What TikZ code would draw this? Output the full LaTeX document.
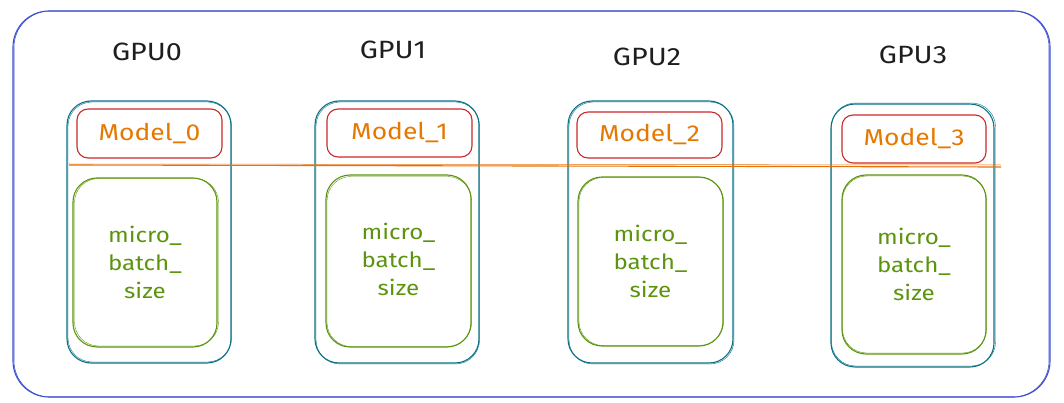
\documentclass[tikz,border=0pt]{standalone}
\usepackage{fontspec}
\setmainfont{Fira Sans}
\usepackage{graphicx}
\definecolor{cblue}{HTML}{3F51D0}
\definecolor{cteal}{HTML}{0B7285}
\definecolor{cred}{HTML}{C92A2A}
\definecolor{corange}{HTML}{E67700}
\definecolor{cline}{HTML}{E8700A}
\definecolor{cgreen}{HTML}{5C940D}
\definecolor{cdark}{HTML}{1E1E1E}
\newcommand{\hw}[1]{\scalebox{1.15}[1]{#1}}
\tikzset{
  box/.style={draw, rounded corners=#1, line width=1.1pt, inner sep=0pt, fill=none},
  gpubox/.style={box=24pt, draw=cteal},
  modelbox/.style={box=11pt, draw=cred},
  batchbox/.style={box=24pt, draw=cgreen},
  gpulabel/.style={text=cdark, font=\fontsize{25}{28}\selectfont},
  modeltext/.style={text=corange, font=\fontsize{23}{26}\selectfont},
  batchtext/.style={text=cgreen, align=center, font=\fontsize{21}{28}\selectfont},
}
\begin{document}
\begin{tikzpicture}[x=1pt,y=-1pt]
\useasboundingbox (0,0) rectangle (1064,403);
% outer frame
\node[box=36pt, draw=cblue, minimum width=1037pt, minimum height=386pt] (frame) at (531.5,204) {};
\draw[cblue, line width=0.6pt, rounded corners=36pt] (14,11) rectangle (1049,397);

% GPU labels
\node[gpulabel] (l0) at (147,52) {\hw{GPU0}};
\node[gpulabel] (l1) at (393,50) {\hw{GPU1}};
\node[gpulabel] (l2) at (647,57) {\hw{GPU2}};
\node[gpulabel] (l3) at (913,55) {\hw{GPU3}};

% GPU boxes
\node[gpubox, minimum width=164pt, minimum height=262pt] (g0) at (149,232) {};
\node[gpubox, minimum width=164pt, minimum height=262pt] (g1) at (397,232) {};
\node[gpubox, minimum width=165pt, minimum height=262pt] (g2) at (650.5,232) {};
\node[gpubox, minimum width=163pt, minimum height=263pt] (g3) at (912.5,235.5) {};
\draw[cteal, line width=0.4pt, rounded corners=24pt] (68,102) rectangle (231.5,362);
\draw[cteal, line width=0.4pt, rounded corners=24pt] (316,102) rectangle (479.5,364);
\draw[cteal, line width=0.4pt, rounded corners=24pt] (569,102) rectangle (734,364);
\draw[cteal, line width=0.4pt, rounded corners=24pt] (831.5,103) rectangle (995.5,366);

% model boxes
\node[modelbox, minimum width=145pt, minimum height=49pt] (m0) at (149.5,133.5) {};
\node[modelbox, minimum width=145pt, minimum height=48pt] (m1) at (399.5,133) {};
\node[modelbox, minimum width=145pt, minimum height=46pt] (m2) at (649.5,135) {};
\node[modelbox, minimum width=144pt, minimum height=48pt] (m3) at (914,139) {};
\node[modeltext] (t0) at (m0) {\hw{Model\_0}};
\node[modeltext] (t1) at (m1) {\hw{Model\_1}};
\node[modeltext] (t2) at (m2) {\hw{Model\_2}};
\node[modeltext] (t3) at (m3) {\hw{Model\_3}};

% batch boxes
\node[batchbox, minimum width=144pt, minimum height=169pt] (b0) at (145,262.5) {};
\node[batchbox, minimum width=145pt, minimum height=172pt] (b1) at (398.5,261) {};
\node[batchbox, minimum width=145pt, minimum height=169pt] (b2) at (650.5,261.5) {};
\node[batchbox, minimum width=144pt, minimum height=179pt] (b3) at (914,264.5) {};
\draw[cgreen, line width=0.4pt, rounded corners=24pt] (74.5,178.5) rectangle (218.5,346);
\draw[cgreen, line width=0.4pt, rounded corners=24pt] (327,176.5) rectangle (471.5,346.5);
\draw[cgreen, line width=0.4pt, rounded corners=24pt] (579,177.5) rectangle (723.5,345.5);
\draw[cgreen, line width=0.4pt, rounded corners=24pt] (842.5,176) rectangle (986.5,353);
\node[batchtext] (s0) at (b0) {\hw{micro\_}\\\hw{batch\_}\\\hw{size}};
\node[batchtext] (s1) at ([yshift=2pt]b1) {\hw{micro\_}\\\hw{batch\_}\\\hw{size}};
\node[batchtext] (s2) at (b2) {\hw{micro\_}\\\hw{batch\_}\\\hw{size}};
\node[batchtext] (s3) at (b3) {\hw{micro\_}\\\hw{batch\_}\\\hw{size}};

% orange line
\coordinate (la) at (69,165);
\coordinate (lb) at (1001,167);
\draw[cline, line width=1.1pt] (la) -- (lb);
\draw[cline, line width=0.5pt] ([yshift=1pt]la) -- ([yshift=2pt]lb);
\end{tikzpicture}
\end{document}
